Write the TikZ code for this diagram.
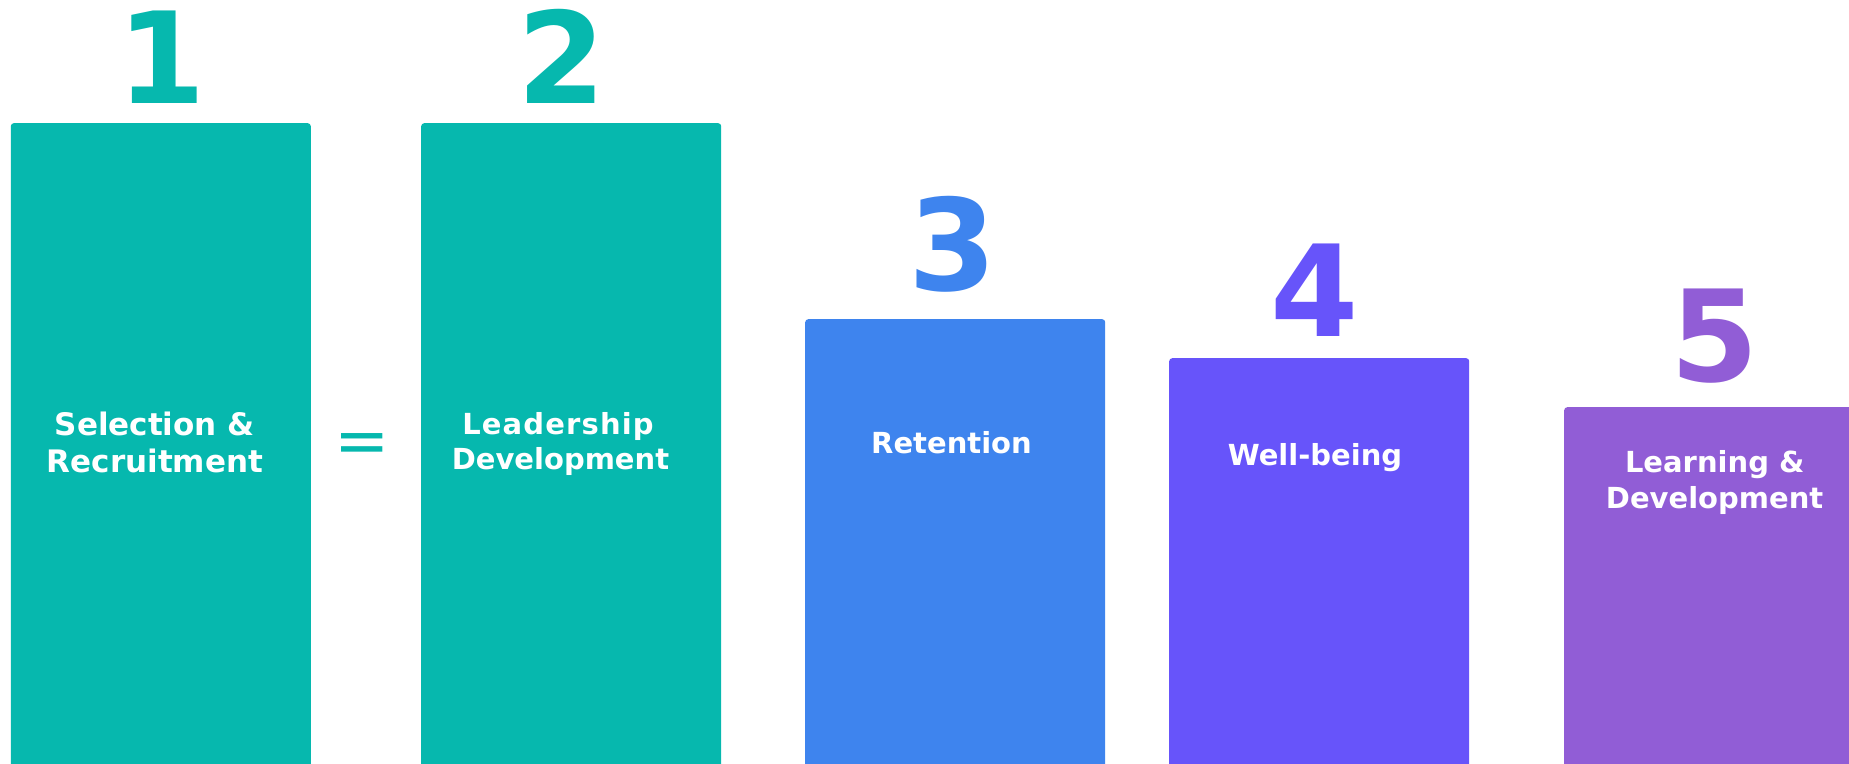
\documentclass[tikz,border=0pt]{standalone}
\usepackage{fontspec}
\setmainfont{DejaVu Sans}
\definecolor{cteal}{RGB}{6,184,174}
\definecolor{cblue}{RGB}{62,132,238}
\definecolor{cindigo}{RGB}{103,84,250}
\definecolor{cpurple}{RGB}{145,93,214}
\begin{document}
\begin{tikzpicture}[x=1pt,y=-1pt,
  barbox/.style={rounded corners=3pt, draw=none, inner sep=0pt, anchor=north west, minimum width=300pt},
  digit/.style={anchor=base, inner sep=0pt, font=\bfseries\fontsize{127}{127}\selectfont},
  lbl/.style={anchor=base, inner sep=0pt, text=white, font=\bfseries\fontsize{29}{34}\selectfont},
  lblbig/.style={lbl, font=\bfseries\fontsize{31}{36}\selectfont},
]
\useasboundingbox (0,0) rectangle (1849,763);
\clip (0,0) rectangle (1849,763);
% bars
\node[barbox, fill=cteal, minimum height=700pt] (b1) at (10.6,123) {};
\node[barbox, fill=cteal, minimum height=700pt] (b2) at (421,123) {};
\node[barbox, fill=cblue, minimum height=500pt] (b3) at (805,319) {};
\node[barbox, fill=cindigo, minimum height=500pt] (b4) at (1169,358) {};
\node[barbox, fill=cpurple, minimum height=500pt] (b5) at (1564,407) {};
% digits
\node[digit, text=cteal] (d1) at (161.5,103.5) {1};
\node[digit, text=cteal] (d2) at (562,103.5) {2};
\node[digit, text=cblue] (d3) at (953,290) {3};
\node[digit, text=cindigo] (d4) at (1315,336) {4};
\node[digit, text=cpurple] (d5) at (1715,381) {5};
% labels
\node[lblbig] (l1a) at (154.7,435.5) {Selection \&};
\node[lblbig] (l1b) at (155,472) {Recruitment};
\node[lbl] (l2a) at (558,434) {\addfontfeature{LetterSpace=4}Leadership};
\node[lbl] (l2b) at (560.5,469) {Development};
\node[lbl] (l3) at (951.5,453) {Retention};
\node[lbl] (l4) at (1315,465) {Well-being};
\node[lbl] (l5a) at (1714.7,472) {Learning \&};
\node[lbl] (l5b) at (1714.6,508) {Development};
% equals sign
\node[anchor=base, inner sep=0pt, text=cteal, font=\fontsize{66}{66}\selectfont] (eq) at (362,463) {=};
\end{tikzpicture}
\end{document}
